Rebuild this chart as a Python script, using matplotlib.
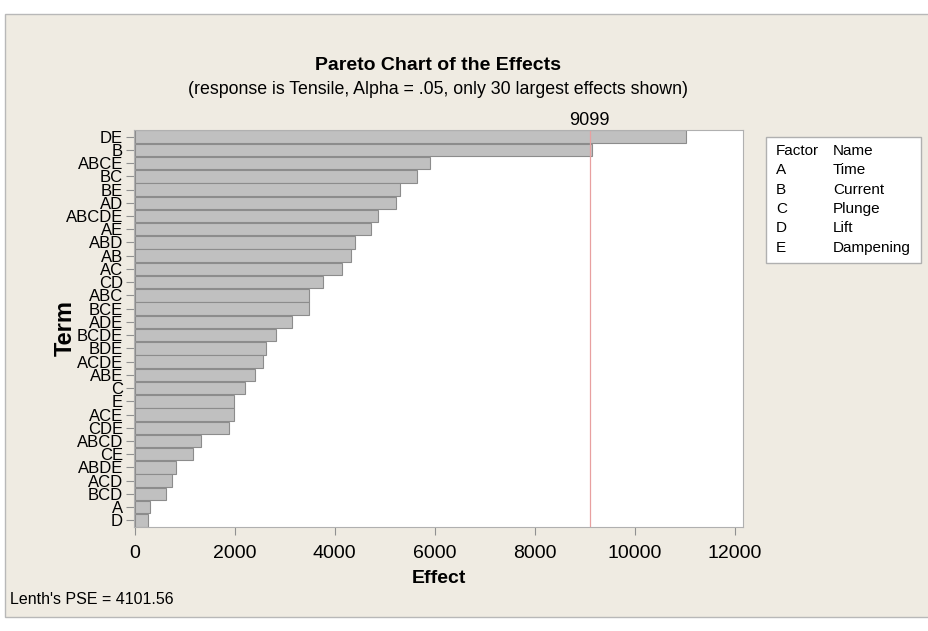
import matplotlib
matplotlib.use("Agg")
import matplotlib.pyplot as plt
from matplotlib.patches import Rectangle

plt.rcParams['font.family'] = ['Liberation Sans', 'DejaVu Sans']

# effects, largest first
terms = ['DE', 'B', 'ABCE', 'BC', 'BE', 'AD', 'ABCDE', 'AE', 'ABD', 'AB',
         'AC', 'CD', 'ABC', 'BCE', 'ADE', 'BCDE', 'BDE', 'ACDE', 'ABE', 'C',
         'E', 'ACE', 'CDE', 'ABCD', 'CE', 'ABDE', 'ACD', 'BCD', 'A', 'D']
effects = [11030, 9150, 5900, 5650, 5300, 5230, 4870, 4730, 4400, 4330,
           4140, 3760, 3490, 3490, 3140, 2830, 2630, 2570, 2400, 2200,
           1980, 1980, 1880, 1320, 1160, 820, 750, 630, 300, 260]
critical = 9099
pse = 4101.56
factors = ['A', 'B', 'C', 'D', 'E']
names = ['Time', 'Current', 'Plunge', 'Lift', 'Dampening']

W, H = 929, 631
fig = plt.figure(figsize=(W / 100, H / 100), dpi=100, facecolor='white')

# beige panel behind everything
fig.patches.append(Rectangle((5 / W, 14 / H), (W - 5) / W, (617 - 14) / H,
                             transform=fig.transFigure, facecolor='#EFEBE2',
                             edgecolor='#B8B8B8', linewidth=1, zorder=-5))

ax = fig.add_axes([134 / W, 1 - 527 / H, 609 / W, 397 / H])
ax.set_zorder(2)
ax.set_facecolor('white')
pos = list(range(len(terms)))
ax.barh(pos, effects, height=0.94, color='#C0C0C0', edgecolor='#8C8C8C',
        linewidth=0.8)
ax.axvline(critical, color='#E8A0A0', linewidth=0.9)
ax.text(critical, -0.6, str(critical), ha='center', va='bottom', fontsize=13)

ax.set_ylim(len(terms) - 0.5, -0.5)
ax.set_xlim(-15, 12170)
ax.set_yticks(pos)
ax.set_yticklabels(terms, fontsize=12)
ax.set_xticks([0, 2000, 4000, 6000, 8000, 10000, 12000])
ax.tick_params(axis='x', labelsize=14, length=6, color='#909090', pad=7)
ax.tick_params(axis='y', length=6, color='#909090', pad=2)
for s in ax.spines.values():
    s.set_color('#B0B0B0')

ax.set_xlabel('Effect', fontsize=14, fontweight='bold', labelpad=6)
ax.set_ylabel('Term', fontsize=17, fontweight='bold')
ax.yaxis.set_label_coords(-0.094, 0.5)

fig.text(438 / W, 1 - 65 / H, 'Pareto Chart of the Effects', ha='center',
         va='center', fontsize=14, fontweight='bold')
fig.text(438 / W, 1 - 89 / H,
         '(response is Tensile, Alpha = .05, only 30 largest effects shown)',
         ha='center', va='center', fontsize=12.8)
fig.text(10 / W, 1 - 600 / H, "Lenth's PSE = %.2f" % pse, ha='left',
         va='center', fontsize=11.5)

# factor / name table
fig.patches.append(Rectangle((766 / W, 1 - 263 / H), 155 / W, 126 / H,
                             transform=fig.transFigure, facecolor='white',
                             edgecolor='#B0B0B0', linewidth=1, zorder=1))
fig.text(776 / W, 1 - 151 / H, 'Factor', fontsize=11, va='center')
fig.text(833 / W, 1 - 151 / H, 'Name', fontsize=11, va='center')
for i in range(len(factors)):
    y = 1 - (170 + i * 19.5) / H
    fig.text(776 / W, y, factors[i], fontsize=11, va='center')
    fig.text(833 / W, y, names[i], fontsize=11, va='center')

fig.savefig('out.png', dpi=100, facecolor=fig.get_facecolor())
